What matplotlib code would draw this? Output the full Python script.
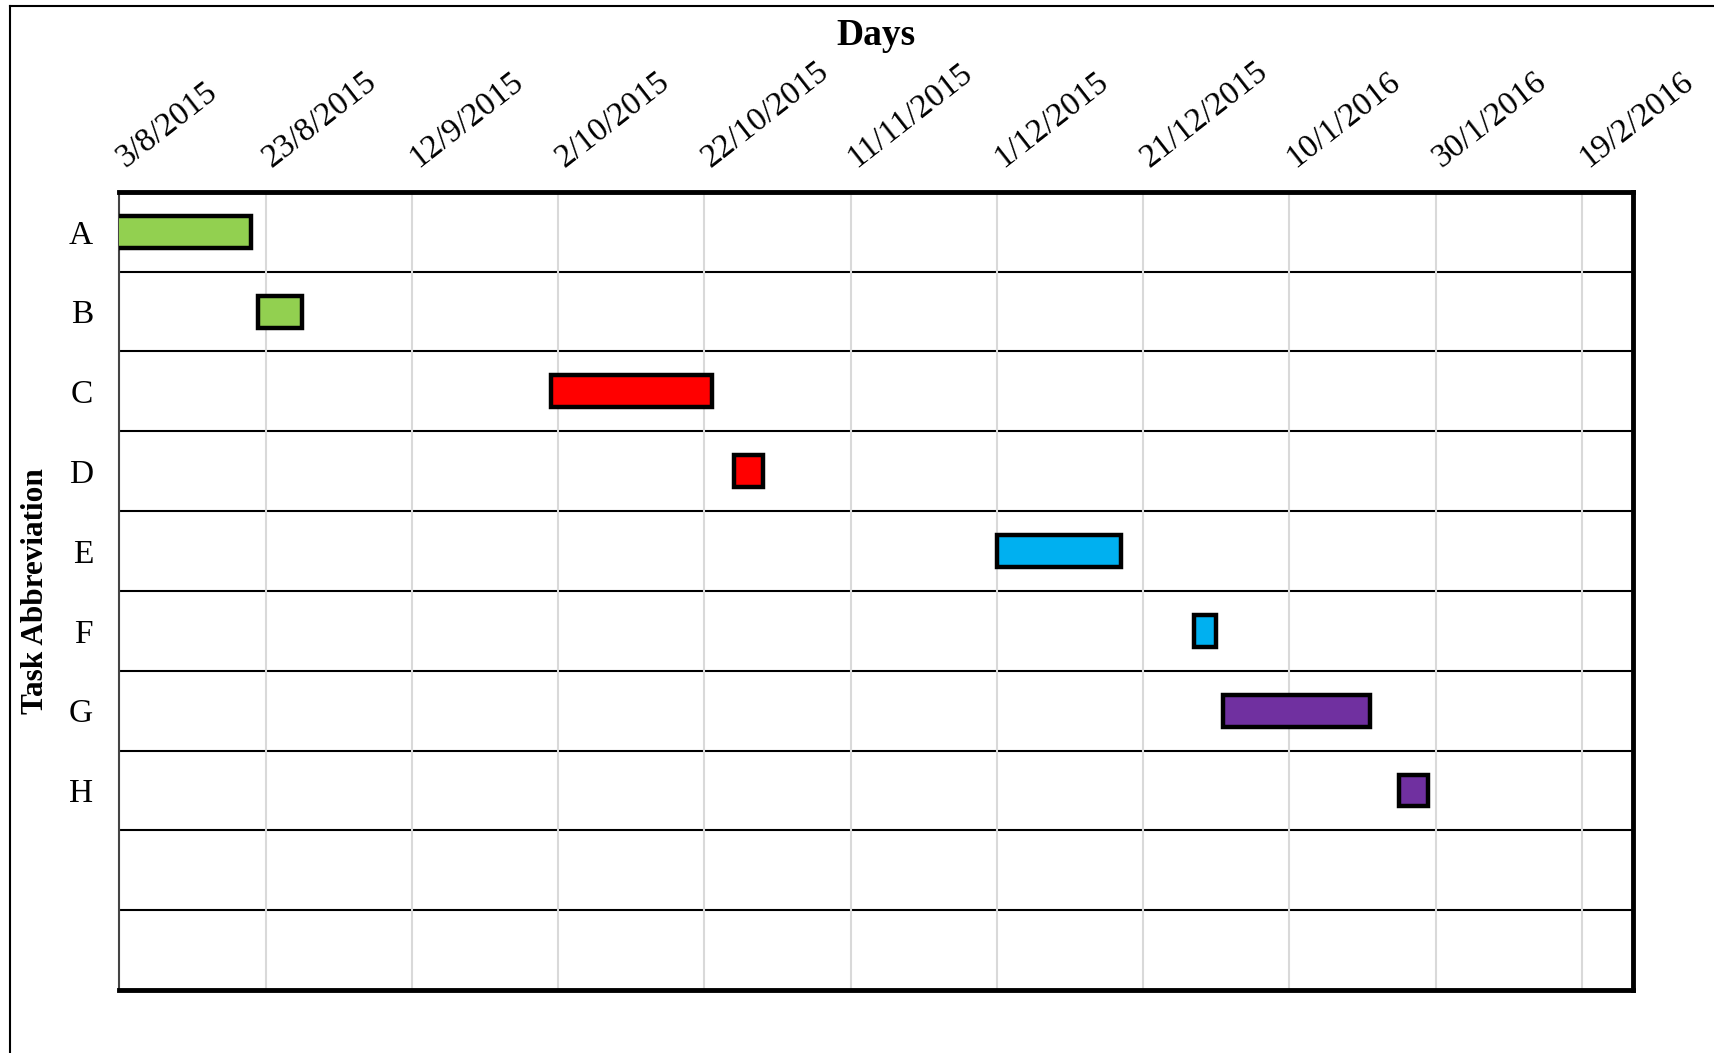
import matplotlib
matplotlib.use("Agg")
import matplotlib.pyplot as plt
import matplotlib.dates as mdates
import matplotlib.transforms as mtransforms
from matplotlib.lines import Line2D
from datetime import date, timedelta

plt.rcParams['font.family'] = ['Liberation Serif', 'DejaVu Serif']

# task schedule
tasks = ['A', 'B', 'C', 'D', 'E', 'F', 'G', 'H', '', '']
starts = ['2015-08-01', '2015-08-22', '2015-10-01', '2015-10-26',
          '2015-12-01', '2015-12-28', '2016-01-01', '2016-01-25']
durations = [20, 6, 22, 4, 17, 3, 20, 4]
colors = ['#92d050', '#92d050', '#ff0000', '#ff0000',
          '#00b0f0', '#00b0f0', '#7030a0', '#7030a0']

axis_start = date(2015, 8, 3)
axis_end = date(2016, 2, 26)
tick_step = 20

fig = plt.figure(figsize=(17.14, 10.53), dpi=100)
ax = fig.add_axes([0.0697, 0.0598, 0.883, 0.758])

start_num = [mdates.date2num(date.fromisoformat(s)) for s in starts]
ax.barh(range(len(starts)), durations, left=start_num, height=0.4,
        color=colors, edgecolor='black', linewidth=3.2, zorder=3)

# date ticks every 20 days
ticks = []
d = axis_start
while d <= axis_end:
    ticks.append(d)
    d += timedelta(days=tick_step)
ax.set_xticks([mdates.date2num(t) for t in ticks])
ax.set_xticklabels([f"{t.day}/{t.month}/{t.year}" for t in ticks],
                   rotation=38, ha='left', va='baseline', rotation_mode='anchor',
                   fontsize=24)
ax.set_xlim(mdates.date2num(axis_start), mdates.date2num(axis_end))
ax.xaxis.tick_top()
ax.xaxis.set_label_position('top')
ax.tick_params(axis='x', length=0, pad=17)
shift = mtransforms.ScaledTranslation(0.06, 0, fig.dpi_scale_trans)
for lbl in ax.get_xticklabels():
    lbl.set_transform(lbl.get_transform() + shift)
ax.grid(axis='x', color='#d9d9d9', linewidth=1.5, zorder=0)

ax.set_yticks(range(len(tasks)))
ax.set_yticklabels(tasks, fontsize=24)
ax.set_ylim(len(tasks) - 0.5, -0.5)
ax.tick_params(axis='y', length=0, pad=19)
for i in range(len(tasks) - 1):
    ax.axhline(i + 0.5, color='black', linewidth=1.5, zorder=1)

ax.set_xlabel('Days', fontsize=27, fontweight='bold', va='center')
ax.xaxis.set_label_coords(0.5, 1.1955)
ax.set_ylabel('Task Abbreviation', fontsize=22.5, fontweight='bold', va='center')
ax.yaxis.set_label_coords(-0.0552, 0.5)

for side in ['top', 'right', 'bottom']:
    ax.spines[side].set_linewidth(3.5)
ax.spines['left'].set_linewidth(1.5)
ax.spines['left'].set_color('#444444')

# outer frame
fig.add_artist(Line2D([0.0058, 1.0], [0.9943, 0.9943], color='black', linewidth=1.5))
fig.add_artist(Line2D([0.0058, 0.0058], [0.0, 0.9943], color='black', linewidth=1.5))

fig.savefig('out.png', dpi=100)
